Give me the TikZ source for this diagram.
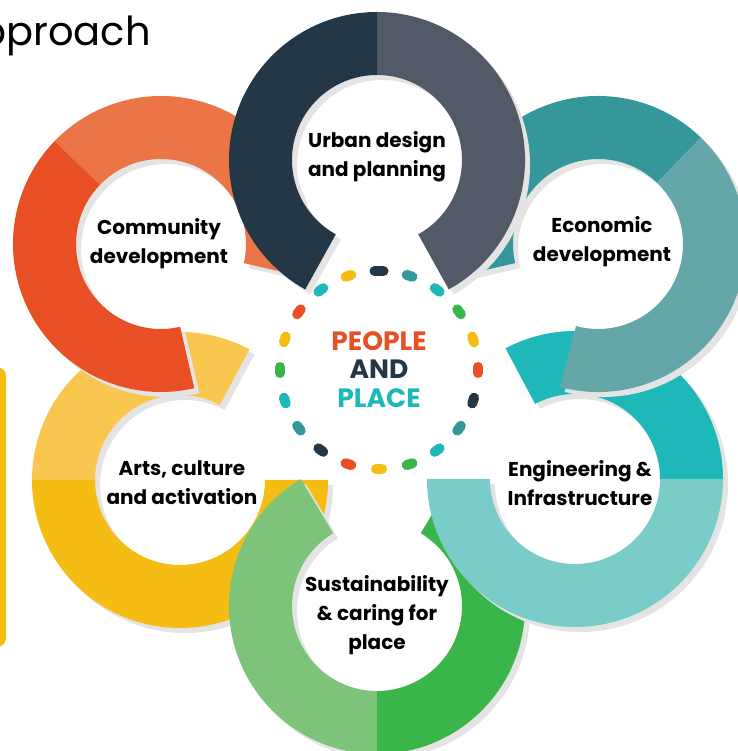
\documentclass[tikz,border=0pt]{standalone}
\usepackage{fontspec}
\setmainfont{Poppins}
\usetikzlibrary{calc}
\definecolor{cNavy}{HTML}{243746}
\definecolor{cSlate}{HTML}{525A68}
\definecolor{cOrL}{HTML}{EC7547}
\definecolor{cOr}{HTML}{E94F24}
\definecolor{cTealD}{HTML}{35979A}
\definecolor{cTealG}{HTML}{65A6A9}
\definecolor{cYelL}{HTML}{F9C74F}
\definecolor{cYel}{HTML}{F5BD14}
\definecolor{cCyan}{HTML}{1FB8B8}
\definecolor{cCyanL}{HTML}{7ACCC8}
\definecolor{cGrnL}{HTML}{7DC47A}
\definecolor{cGrn}{HTML}{39B54A}
\definecolor{cShadow}{HTML}{E4E4E4}
\def\Ro{148}
\def\Ri{85}
\newcommand\ringseg[5]{\fill[#5] ($(#1,#2)+(#3:\Ro)$) arc[start angle=#3,end angle=#4,radius=\Ro] -- ($(#1,#2)+(#4:\Ri)$) arc[start angle=#4,end angle=#3,radius=\Ri] -- cycle;}
\newcommand\ringshadow[4]{\begin{scope}[shift={(5,-5)}]\ringseg{#1}{#2}{#3}{#4}{cShadow}\end{scope}}
\tikzset{
  lbl/.style={align=center,font=\bfseries\fontsize{20}{29}\selectfont,text=black,inner sep=0pt},
  hubtxt/.style={font=\bfseries\fontsize{26.5}{28}\selectfont,inner sep=0pt},
}
\begin{document}
\begin{tikzpicture}[x=1pt,y=1pt]
\useasboundingbox (0,0) rectangle (737,751);
% title and side box
\node[anchor=base east,font=\fontsize{40}{44}\selectfont,inner sep=0pt] (title) at (151,705) {Approach};
\fill[cYel,rounded corners=9pt] (-40,104) rectangle (6,384);
% Arts
\ringshadow{180}{271}{62}{360}
\ringseg{180}{271}{62}{180}{cYelL}
\ringseg{180}{271}{180}{360}{cYel}
% Sustainability
\ringshadow{377}{145}{121}{419}
\ringseg{377}{145}{121}{270}{cGrnL}
\ringseg{377}{145}{270}{419}{cGrn}
% Engineering
\ringshadow{575}{272}{180}{478}
\ringseg{575}{272}{0}{118}{cCyan}
\ringseg{575}{272}{180}{360}{cCyanL}
% Community
\ringshadow{161}{507}{-13}{283}
\ringseg{161}{507}{-13}{136}{cOrL}
\ringseg{161}{507}{136}{283}{cOr}
% Economic
\ringshadow{598}{507}{255}{553}
\ringseg{598}{507}{46}{193}{cTealD}
\ringseg{598}{507}{255}{406}{cTealG}
% Urban
\ringshadow{377}{591}{-61}{241}
\ringseg{377}{591}{-61}{90}{cSlate}
\ringseg{377}{591}{90}{241}{cNavy}
% hub dots
\coordinate (hub) at (379,381);
\foreach \c [count=\i from 0] in {cNavy,cTealD,cCyan,cGrn,cYel,cOr,cNavy,cTealD,cCyan,cGrn,cYel,cOr,cNavy,cTealD,cCyan,cGrn,cYel,cOr,cCyan,cYel}{
  \pgfmathsetmacro\a{90-18*\i}
  \pgfmathsetmacro\h{\i==0 ? 4.5 : 3}
  \draw[\c,line width=10pt,line cap=round] ($(hub)+(\a:99)+(\a+90:\h)$) -- ($(hub)+(\a:99)+(\a-90:\h)$);
}
% hub text
\node[hubtxt,text=cOr] (people) at (379,410) {PEOPLE};
\node[hubtxt,text=cNavy] (and) at (379,382) {AND};
\node[hubtxt,text=cCyan] (place) at (379,353) {PLACE};
% labels
\node[lbl] (lUrban) at (377,594) {Urban design\\and planning};
\node[lbl] (lComm) at (159,507) {Community\\development};
\node[lbl] (lEcon) at (602,509) {Economic\\development};
\node[lbl] (lArts) at (182,268) {Arts, culture\\and activation};
\node[lbl] (lEng) at (580,268) {Engineering \&\\Infrastructure};
\node[lbl] (lSust) at (377,136) {Sustainability\\\& caring for\\place};
\end{tikzpicture}
\end{document}
